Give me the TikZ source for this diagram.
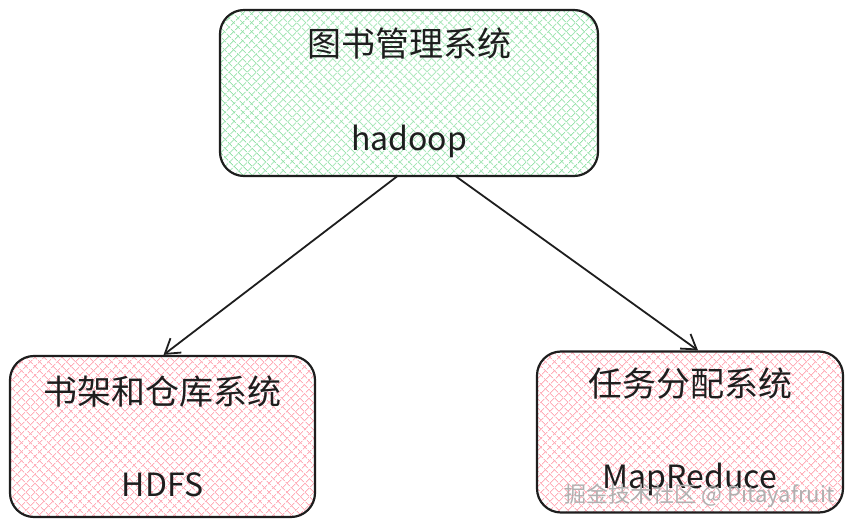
\documentclass[tikz,border=0pt]{standalone}
\usepackage{fontspec}
\usepackage{xcolor}
\usepackage{tikz}
\usetikzlibrary{arrows.meta,positioning,patterns.meta}
\setmainfont{Noto Sans CJK SC}
\definecolor{SketchInk}{HTML}{1E1E1E}
\definecolor{HatchGreen}{HTML}{8EE0A4}
\definecolor{HatchPink}{HTML}{FFAFBA}
\definecolor{MarkGray}{HTML}{B0B0B0}
\tikzset{
  sysbox/.style={draw=SketchInk,line width=2.2pt,rounded corners=24pt,align=center,inner sep=0pt,
    font=\fontsize{34}{40}\selectfont,text=SketchInk},
  greenhatch/.style={preaction={pattern={Lines[angle=45,distance=6.5pt,line width=0.9pt]},pattern color=HatchGreen},
    pattern={Lines[angle=-45,distance=6.5pt,line width=0.9pt]},pattern color=HatchGreen},
  pinkhatch/.style={preaction={pattern={Lines[angle=45,distance=6.5pt,line width=0.9pt]},pattern color=HatchPink},
    pattern={Lines[angle=-45,distance=6.5pt,line width=0.9pt]},pattern color=HatchPink},
  sketcharrow/.style={-{Straight Barb[length=14pt,width=18pt,line width=1.8pt]},line width=1.8pt,draw=SketchInk}
}
\newcommand{\subname}[1]{{\fontsize{32}{38}\selectfont #1}}

\begin{document}
\begin{tikzpicture}[x=1pt,y=-1pt]
\useasboundingbox[fill=white] (0,0) rectangle (852,529);
\node[sysbox,greenhatch,minimum width=378pt,minimum height=166pt] (lib) at (409,93) {图书管理系统\\[54pt]\subname{hadoop}};
\node[sysbox,pinkhatch,minimum width=305pt,minimum height=161pt] (hdfs) at (162.5,436.5) {书架和仓库系统\\[52pt]\subname{HDFS}};
\node[sysbox,pinkhatch,minimum width=306pt,minimum height=161pt] (mr) at (690,432) {任务分配系统\\[52pt]\subname{MapReduce}};
\node[text=MarkGray,font=\fontsize{22}{26}\selectfont,anchor=east] (mark) at (838,496) {掘金技术社区 @ Pitayafruit};
\draw[sketcharrow] ([xshift=-12pt]lib.south) -- ([xshift=1pt]hdfs.north);
\draw[sketcharrow] ([xshift=47pt]lib.south) -- ([xshift=8pt]mr.north);
\end{tikzpicture}
\end{document}
